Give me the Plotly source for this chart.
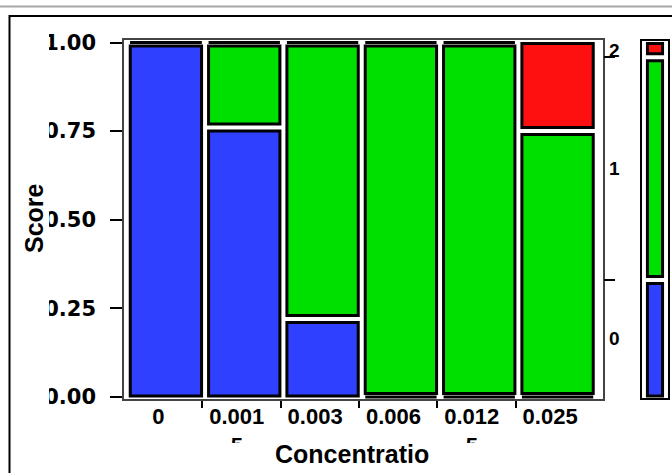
import plotly.graph_objects as go

# ---------------- data ----------------
concentrations = ["0", "0.001<br>5", "0.003", "0.006", "0.012<br>5", "0.025"]
score_levels = ["0", "1", "2"]
score0 = [1.00, 0.76, 0.22, 0.00, 0.00, 0.00]
score1 = [0.00, 0.24, 0.78, 1.00, 1.00, 0.75]
score2 = [0.00, 0.00, 0.00, 0.00, 0.00, 0.25]
y_tickvals = [0.0, 0.25, 0.5, 0.75, 1.0]
y_ticktext = ["0.00", "0.25", "0.50", "0.75", "1.00"]
level_colors = ["#3040FF", "#00E000", "#FF1010"]

shares = [score0, score1, score2]
n_cols = len(concentrations)

# ---------------- geometry / style ----------------
W, H = 672, 473
ML, MR, MT, MB = 124, 2, 40, 74
PW, PH = W - ML - MR, H - MT - MB
MAIN_RIGHT = 603
MARG_L, MARG_R = 641, 669
X_RANGE = [0, 6.115]
Y_RANGE = [-0.00564, 1.00705]
px_per_x = (MAIN_RIGHT - ML) / (X_RANGE[1] - X_RANGE[0])
px_per_y = PH / (Y_RANGE[1] - Y_RANGE[0])
COL_SHIFT = 0.035
IN_X = 3.5 / px_per_x
IN_Y = 3.5 / px_per_y
EDGE_Y = 1.0 / px_per_y
FONT = "Liberation Sans, Arial, sans-serif"
WIDE_FONT = "DejaVu Sans, Verdana, sans-serif"


def px_x(p):
    return (p - ML) / PW


def px_y(p):
    return (H - MB - p) / PH


shapes = []


def add_stack(fracs, xref, xa, xb):
    cum = 0.0
    nlev = len(fracs)
    for k, f in enumerate(fracs):
        if f > 0:
            y0 = cum + (EDGE_Y if k == 0 else IN_Y)
            y1 = cum + f - (EDGE_Y if k == nlev - 1 else IN_Y)
            shapes.append(dict(type="rect", xref=xref, yref="y", x0=xa, x1=xb,
                               y0=y0, y1=y1, fillcolor=level_colors[k],
                               line=dict(color="black", width=3), layer="above"))
        else:
            shapes.append(dict(type="line", xref=xref, yref="y", x0=xa, x1=xb,
                               y0=cum, y1=cum,
                               line=dict(color="black", width=3), layer="above"))
        cum += f


for i in range(n_cols):
    add_stack([s[i] for s in shares], "x",
              i + COL_SHIFT + IN_X, i + 1 + COL_SHIFT - IN_X)

marg = [sum(s) / n_cols for s in shares]
add_stack(marg, "x2", 0.23, 0.77)

bounds, mids = [], []
c = 0.0
for k, f in enumerate(marg):
    mids.append(c + f / 2)
    c += f
    if k < len(marg) - 1:
        bounds.append(c)

# marginal frame
shapes.append(dict(type="rect", xref="x2 domain", yref="y domain", x0=0, x1=1,
                   y0=0, y1=1, line=dict(color="black", width=2), layer="above"))
# outer decorations
shapes.append(dict(type="line", xref="paper", yref="paper", x0=px_x(0), x1=px_x(W),
                   y0=px_y(6.5), y1=px_y(6.5), line=dict(color="#A8A8A8", width=2)))
shapes.append(dict(type="rect", xref="paper", yref="paper", x0=px_x(9.5), x1=px_x(W + 10),
                   y0=px_y(16), y1=px_y(H + 10), line=dict(color="black", width=2),
                   layer="below"))
# clipping masks (mimic truncated labels)
shapes.append(dict(type="rect", xref="paper", yref="paper", x0=px_x(12), x1=px_x(49),
                   y0=px_y(30), y1=px_y(412), fillcolor="white", line=dict(width=0),
                   layer="above"))
shapes.append(dict(type="rect", xref="paper", yref="paper", x0=px_x(110), x1=px_x(625),
                   y0=px_y(443), y1=px_y(470), fillcolor="white", line=dict(width=0),
                   layer="above"))

fig = go.Figure()
for xa, ya in [("x", "y"), ("x2", "y"), ("x3", "y"), ("x", "y2"), ("x", "y3")]:
    fig.add_trace(go.Scatter(x=[None], y=[None], xaxis=xa, yaxis=ya,
                             showlegend=False, hoverinfo="skip"))

main_dom = [0, px_x(MAIN_RIGHT)]
tick_font = dict(family=FONT, size=22, color="black", weight="bold")

fig.update_layout(
    width=W, height=H,
    margin=dict(l=ML, r=MR, t=MT, b=MB, pad=0),
    paper_bgcolor="white", plot_bgcolor="white",
    showlegend=False,
    shapes=shapes,
    xaxis=dict(domain=main_dom, range=X_RANGE, anchor="y",
               tickmode="array", tickvals=list(range(1, n_cols)),
               ticks="outside", ticklen=7, tickwidth=1.5, tickcolor="black",
               showticklabels=False, showline=True, linecolor="#444", linewidth=1.5,
               mirror=True, showgrid=False, zeroline=False),
    xaxis3=dict(overlaying="x", anchor="y", side="bottom", range=X_RANGE,
                tickmode="array", tickvals=[i + 0.44 for i in range(n_cols)],
                ticktext=concentrations, ticks="", tickfont=tick_font,
                ticklabelstandoff=2,
                showline=False, showgrid=False, zeroline=False),
    xaxis2=dict(domain=[px_x(MARG_L), px_x(MARG_R)], anchor="y", range=[0, 1],
                visible=False),
    yaxis=dict(domain=[0, 1], range=Y_RANGE, anchor="x",
               tickmode="array", tickvals=y_tickvals, ticktext=y_ticktext,
               ticks="outside", ticklen=12, tickwidth=1.5, tickcolor="black",
               tickfont=dict(family=WIDE_FONT, size=21, color="black", weight="bold"),
               ticklabelstandoff=10,
               showline=True, linecolor="#444", linewidth=1.5, mirror=True,
               showgrid=False, zeroline=False),
    yaxis2=dict(overlaying="y", anchor="x", side="right", range=Y_RANGE,
                tickmode="array", tickvals=bounds, ticks="outside", ticklen=11,
                tickwidth=1.5, tickcolor="black", showticklabels=False,
                showline=False, showgrid=False, zeroline=False),
    yaxis3=dict(overlaying="y", anchor="x", side="right", range=Y_RANGE,
                tickmode="array", tickvals=mids, ticktext=score_levels, ticks="",
                tickfont=dict(family=FONT, size=19, color="black", weight="bold"),
                ticklabelstandoff=5,
                showline=False, showgrid=False, zeroline=False),
    annotations=[
        dict(text="Score", xref="paper", yref="paper", x=px_x(34), y=px_y(218),
             textangle=-90, showarrow=False, xanchor="center", yanchor="middle",
             font=dict(family=FONT, size=25, color="black", weight="bold")),
        dict(text="Concentratio", xref="paper", yref="paper", x=px_x(273), y=px_y(454),
             showarrow=False, xanchor="left", yanchor="middle",
             font=dict(family=FONT, size=25, color="black", weight="bold")),
    ],
)

fig.write_html("out.html",
               config={"displayModeBar": False},
               post_script="document.body.style.margin='0';document.body.style.overflow='hidden';")
